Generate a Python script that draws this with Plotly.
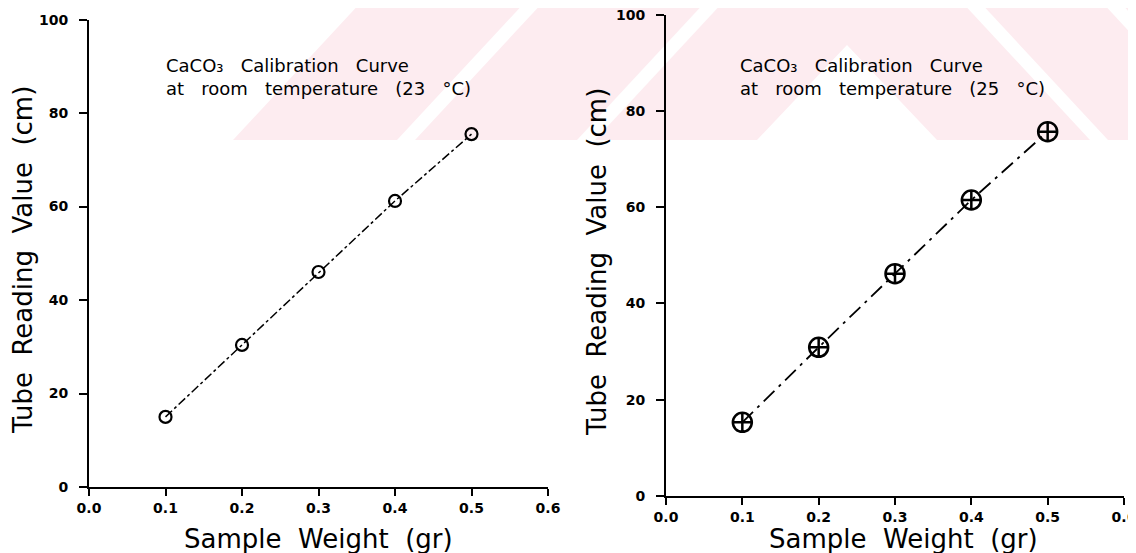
import plotly.graph_objects as go

# ---- data ----
sample_weight = [0.1, 0.2, 0.3, 0.4, 0.5]
reading_23C = [15.0, 30.4, 46.0, 61.2, 75.5]
reading_25C = [15.3, 30.9, 46.2, 61.5, 75.7]
x_ticks = [0.0, 0.1, 0.2, 0.3, 0.4, 0.5, 0.6]
x_tick_labels = ["0.0", "0.1", "0.2", "0.3", "0.4", "0.5", "0.6"]
y_ticks = [0, 20, 40, 60, 80, 100]
y_tick_labels = ["0", "20", "40", "60", "80", "100"]
G2 = " \u00a0"
G3 = " \u00a0\u00a0"
note_left = f"CaCO\u2083{G3}Calibration{G3}Curve<br>at{G3}room{G3}temperature{G3}(23{G3}\u00b0C)"
note_right = f"CaCO\u2083{G3}Calibration{G3}Curve<br>at{G3}room{G3}temperature{G3}(25{G3}\u00b0C)"
y_title = f"Tube{G2}Reading{G2}Value{G2}(cm)"
x_title = f"Sample{G2}Weight{G2}(gr)"

W, H = 1136, 553
OFF = 8  # page body margin offset
def px(x):
    return (x - OFF) / W
def py(y):
    return 1 - (y - OFF) / H

fig = go.Figure()
fig.add_trace(go.Scatter(
    x=sample_weight, y=reading_23C, mode="lines+markers", xaxis="x", yaxis="y",
    line=dict(color="black", width=1.5, dash="dashdot"),
    marker=dict(symbol="circle-open", size=12, color="black", line=dict(width=2.2, color="black")),
    showlegend=False))
fig.add_trace(go.Scatter(
    x=sample_weight, y=reading_25C, mode="lines+markers", xaxis="x2", yaxis="y2",
    line=dict(color="black", width=1.8, dash="longdashdot"),
    marker=dict(symbol="circle-cross-open", size=19, color="black", line=dict(width=2.5, color="black")),
    showlegend=False))

tickfont = dict(family="DejaVu Sans", size=14, color="black", weight="bold")
common_x = dict(range=[0, 0.6], tickvals=x_ticks, ticktext=x_tick_labels, showgrid=False, zeroline=False,
                showline=True, linecolor="black", linewidth=2, ticks="outside", ticklen=7, tickwidth=1.5,
                tickcolor="black", tickfont=tickfont, automargin=False, ticklabeloverflow="allow")
common_y = dict(range=[0, 100], tickvals=y_ticks, ticktext=y_tick_labels, showgrid=False, zeroline=False,
                showline=True, linecolor="black", linewidth=2, ticks="outside", ticklen=8, tickwidth=1.5,
                tickcolor="black", tickfont=tickfont, automargin=False, ticklabeloverflow="allow",
                ticklabelstandoff=8)

fig.update_layout(
    width=W, height=H, margin=dict(l=0, r=0, t=0, b=0, autoexpand=False),
    paper_bgcolor="white", plot_bgcolor="rgba(0,0,0,0)",
    xaxis=dict(domain=[px(89), px(548)], anchor="y", **common_x),
    yaxis=dict(domain=[py(487), py(19.6)], anchor="x", **common_y),
    xaxis2=dict(domain=[px(666), px(1124)], anchor="y2", **common_x),
    yaxis2=dict(domain=[py(496), py(14.7)], anchor="x2", **common_y),
)

title_font_y = dict(family="DejaVu Sans", size=26, color="black")
title_font_x = dict(family="DejaVu Sans", size=26, color="black")
note_font = dict(family="DejaVu Sans", size=18, color="black")
annots = []
for xc_y, yc_y, xc_x, yc_x, nx, ny, note in [
    (23, 260, 318, 539, 164, 77, note_left),
    (597, 262, 903, 539, 738, 77, note_right),
]:
    annots.append(dict(xref="paper", yref="paper", x=px(xc_y), y=py(yc_y), text=y_title, textangle=-90,
                       showarrow=False, font=title_font_y, xanchor="center", yanchor="middle"))
    annots.append(dict(xref="paper", yref="paper", x=px(xc_x), y=py(yc_x), text=x_title,
                       showarrow=False, font=title_font_x, xanchor="center", yanchor="middle"))
    annots.append(dict(xref="paper", yref="paper", x=px(nx), y=py(ny), text=note, align="left",
                       showarrow=False, font=note_font, xanchor="left", yanchor="middle"))
fig.update_layout(annotations=annots)

# ---- faint background watermark (decoration) ----
pink = "rgb(253,236,240)"
def poly(pts, color):
    d = "M " + " L ".join(f"{px(x)},{py(y)}" for x, y in pts) + " Z"
    return dict(type="path", xref="paper", yref="paper", path=d, fillcolor=color,
                line=dict(width=0), layer="below")
shapes = []
bh = 140
shapes.append(poly([(233, bh), (1144, bh), (1144, 0), (363, 0)], pink))
s = 130
for b in [397, 577]:
    shapes.append(poly([(b, bh), (b + 18, bh), (b + 18 + s, 0), (b + s, 0)], "white"))
shapes.append(poly([(757, bh), (847, 45), (937, bh)], "white"))
for t in [960, 1100]:
    shapes.append(poly([(t, 0), (t + 18, 0), (t + 18 + s, bh), (t + s, bh)], "white"))
fig.update_layout(shapes=shapes)

fig.write_html("out.html")
